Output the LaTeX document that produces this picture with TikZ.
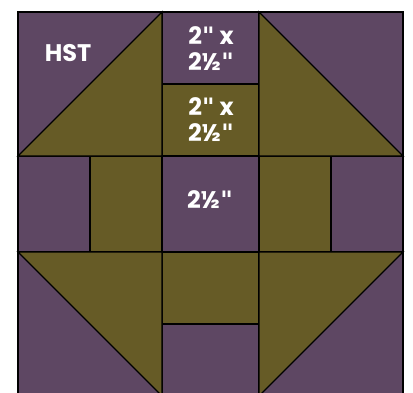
\documentclass[tikz,border=0pt]{standalone}
\usepackage{fontspec}
\setmainfont{Poppins}
\newfontfamily\quotefont{DejaVu Sans}
\usepackage{tikz}
\definecolor{plum}{RGB}{94,71,99}
\definecolor{olive}{RGB}{102,91,38}
\newcommand{\inch}{{\quotefont\symbol{34}}}

\begin{document}
\begin{tikzpicture}[x=1pt, y=-1pt, line width=1.4pt, line join=miter,
    patch/.style={draw=black},
    lbl/.style={text=white, font=\fontsize{24}{26}\selectfont\bfseries, align=center, inner sep=0pt}]
  \useasboundingbox (0,0) rectangle (413,392);
  % plum patches
  \foreach \a/\b/\c/\d in {18/12/162/156, 259/12/403/156, 18/252/162/396, 259/252/403/396,
      162/12/259/84, 18/156/90/252, 162/156/259/252, 331/156/403/252, 162/324/259/396}
    \filldraw[patch, fill=plum] (\a,\b) rectangle (\c,\d);
  % olive patches
  \foreach \a/\b/\c/\d in {162/84/259/156, 90/156/162/252, 259/156/331/252, 162/252/259/324}
    \filldraw[patch, fill=olive] (\a,\b) rectangle (\c,\d);
  % half square triangles
  \filldraw[patch, fill=olive] (18,156) -- (162,12) -- (162,156) -- cycle;
  \filldraw[patch, fill=olive] (259,12) -- (403,156) -- (259,156) -- cycle;
  \filldraw[patch, fill=olive] (18,252) -- (162,252) -- (162,396) -- cycle;
  \filldraw[patch, fill=olive] (259,252) -- (403,252) -- (259,396) -- cycle;
  % labels
  \node[lbl] (hst) at (68,53) {HST};
  \node[lbl] (top) at (211,49) {2\inch{} x\\2½\inch};
  \node[lbl] (mid) at (211,120) {2\inch{} x\\2½\inch};
  \node[lbl] (ctr) at (210,200) {2½\inch};
\end{tikzpicture}
\end{document}
